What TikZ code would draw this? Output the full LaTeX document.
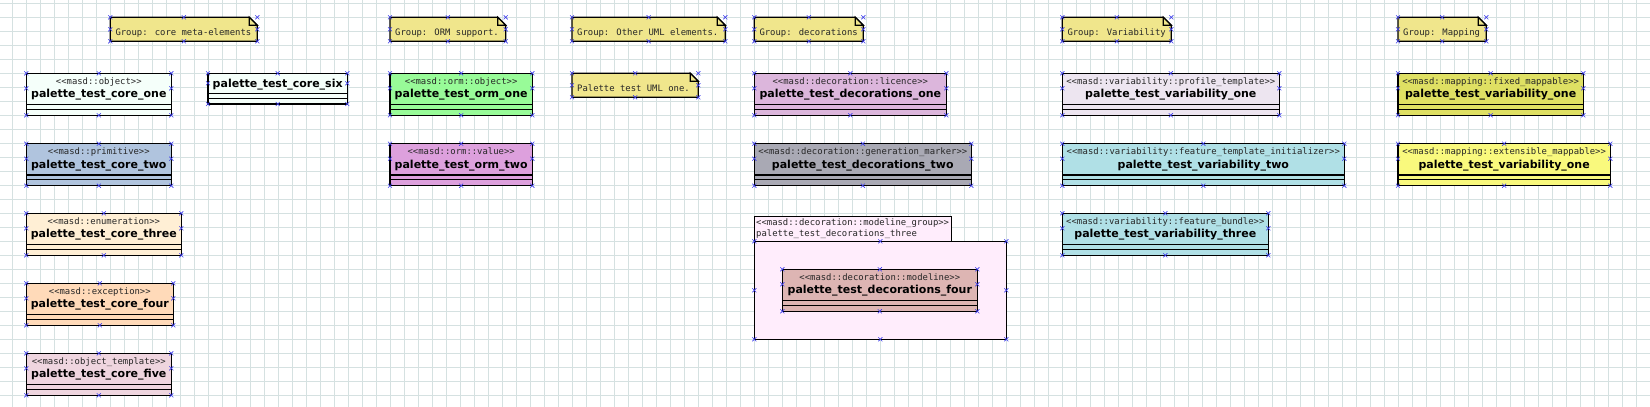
\documentclass[tikz,border=0pt]{standalone}
\usepackage{fontspec}
\usepackage{tikz}
\newfontfamily\monofont{DejaVu Sans Mono}
\newfontfamily\namefont{DejaVu Sans}
\definecolor{gridcol}{RGB}{213,225,225}
\definecolor{markcol}{RGB}{60,60,235}
\definecolor{notecol}{HTML}{F0E68C}
\definecolor{coreone}{HTML}{F5FFFA}
\definecolor{coretwo}{HTML}{B0C4DE}
\definecolor{corethree}{HTML}{FFEFD5}
\definecolor{corefour}{HTML}{FFDAB9}
\definecolor{corefive}{HTML}{EFD5DF}
\definecolor{ormone}{HTML}{98FB98}
\definecolor{ormtwo}{HTML}{DDA0DD}
\definecolor{decone}{HTML}{DCB6DC}
\definecolor{dectwo}{HTML}{A9A9B4}
\definecolor{decfour}{HTML}{DDB5B3}
\definecolor{pkgcol}{HTML}{FFEDFC}
\definecolor{varone}{HTML}{EDE5F0}
\definecolor{vartwo}{HTML}{B0E0E6}
\definecolor{mapone}{HTML}{DFE063}
\definecolor{maptwo}{HTML}{F9F97D}
\tikzset{
    gridline/.style={gridcol,line width=1pt},
    box/.style={draw=black,line width=1.2pt},
    stereotext/.style={font={\monofont\fontsize{8.9}{10}\selectfont},text=black!85,inner sep=0pt,anchor=base},
    notetext/.style={stereotext,anchor=base west},
    nametext/.style={font={\namefont\bfseries\fontsize{11}{13}\selectfont},inner sep=0pt,anchor=base},
    connmark/.pic={\draw[markcol,line width=0.6pt](-2,-2)--(2,2)(-2,2)--(2,-2);}
}
\begin{document}
\begin{tikzpicture}[x=1pt,y=-1pt]
\useasboundingbox (0,0) rectangle (1650,407);
% grid
\foreach \i in {0,...,116}
	\draw[gridline](12.7+14*\i,0)--(12.7+14*\i,407);
\foreach \j in {0,...,28}
	\draw[gridline](0,3.3+14*\j)--(1650,3.3+14*\j);

% notes
\foreach \xa/\ya/\xb/\yb/\txt [count=\n] in {
	110.3/17.3/257.3/41.3/{Group: core meta-elements},
	390/17.3/505.7/41.3/{Group: ORM support.},
	572/17.3/725.3/41.3/{Group: Other UML elements.},
	572/73.3/698.3/97.3/{Palette test UML one.},
	754.3/17.3/863.3/41.3/{Group: decorations},
	1062.3/17.3/1171.3/41.3/{Group: Variability},
	1398/17.3/1486.3/41.3/{Group: Mapping}}
	{\pgfmathsetmacro\xm{(\xa+\xb)/2}
	 \pgfmathsetmacro\ym{(\ya+\yb)/2}
	 \draw[box,fill=notecol](\xa,\ya)--({\xb-8},\ya)--(\xb,{\ya+8})--(\xb,\yb)--(\xa,\yb)--cycle;
	 \draw[box,fill=notecol]({\xb-8},\ya)--({\xb-8},{\ya+8})--(\xb,{\ya+8})--cycle;
	 \node[notetext](note\n) at ({\xa+5},{\ya+17.7}){\txt};
	 \foreach \mx/\my in {\xa/\ya,\xm/\ya,\xb/\ya,\xa/\ym,\xb/\ym,\xa/\yb,\xm/\yb,\xb/\yb}
		\pic at (\mx,\my){connmark};
	}

% package
\draw[box,fill=pkgcol](754.3,216.7)rectangle(951.3,241.3);
\draw[box,fill=pkgcol](754.3,241.3)rectangle(1006.3,339.3);
\node[notetext](pkgst) at (756,225.7){<<masd::decoration::modeline\_group>>};
\node[notetext](pkgnm) at (756,236.3){palette\_test\_decorations\_three};
\foreach \mx/\my in {754.3/241.3,880.3/241.3,1006.3/241.3,754.3/290.3,1006.3/290.3,754.3/339.3,880.3/339.3,1006.3/339.3}
	\pic at (\mx,\my){connmark};

% classes
\foreach \xa/\ya/\xb/\col/\st/\nm [count=\n] in {
	26.3/73.3/171.3/coreone/masd::object/palette\_test\_core\_one,
	26.3/143.7/171.3/coretwo/masd::primitive/palette\_test\_core\_two,
	26.3/213.3/181.3/corethree/masd::enumeration/palette\_test\_core\_three,
	26.3/283.3/173.3/corefour/masd::exception/palette\_test\_core\_four,
	26.3/353.3/171.3/corefive/masd::object\_template/palette\_test\_core\_five,
	390/73.3/532.3/ormone/masd::orm::object/palette\_test\_orm\_one,
	390/143.7/532.3/ormtwo/masd::orm::value/palette\_test\_orm\_two,
	754.3/73.3/946.3/decone/masd::decoration::licence/palette\_test\_decorations\_one,
	754.3/143.7/971.3/dectwo/masd::decoration::generation\_marker/palette\_test\_decorations\_two,
	782.3/269.3/977.3/decfour/masd::decoration::modeline/palette\_test\_decorations\_four,
	1062.3/73.3/1279.3/varone/masd::variability::profile\_template/palette\_test\_variability\_one,
	1062.3/143.7/1344.3/vartwo/masd::variability::feature\_template\_initializer/palette\_test\_variability\_two,
	1062.3/213.3/1268.3/vartwo/masd::variability::feature\_bundle/palette\_test\_variability\_three,
	1398/73.3/1583.3/mapone/masd::mapping::fixed\_mappable/palette\_test\_variability\_one,
	1398/143.7/1610.3/maptwo/masd::mapping::extensible\_mappable/palette\_test\_variability\_one}
	{\pgfmathsetmacro\xm{(\xa+\xb)/2}
	 \pgfmathsetmacro\yb{\ya+42}
	 \pgfmathsetmacro\yc{\ya+31.3}
	 \pgfmathsetmacro\yd{\ya+36}
	 \pgfmathsetmacro\ye{\ya+15}
	 \draw[box,fill=\col](\xa,\ya)rectangle(\xb,\yb);
	 \draw[box](\xa,\yc)--(\xb,\yc)(\xa,\yd)--(\xb,\yd);
	 \node[stereotext](st\n) at (\xm,{\ya+11}){<<\st>>};
	 \node[nametext](nm\n) at (\xm,{\ya+24.4}){\nm};
	 \foreach \mx/\my in {\xa/\ya,\xm/\ya,\xb/\ya,\xa/\ye,\xb/\ye,\xa/\yb,\xm/\yb,\xb/\yb}
		\pic at (\mx,\my){connmark};
	}

% class without stereotype
\draw[box,fill=coreone](208,73.3)rectangle(347.3,104);
\draw[box](208,93.7)--(347.3,93.7)(208,98.7)--(347.3,98.7);
\node[nametext](six) at (277.7,87){palette\_test\_core\_six};
\foreach \mx/\my in {208/73.3,277.7/73.3,347.3/73.3,208/83.3,347.3/83.3,208/104,277.7/104,347.3/104}
	\pic at (\mx,\my){connmark};
\end{tikzpicture}
\end{document}
